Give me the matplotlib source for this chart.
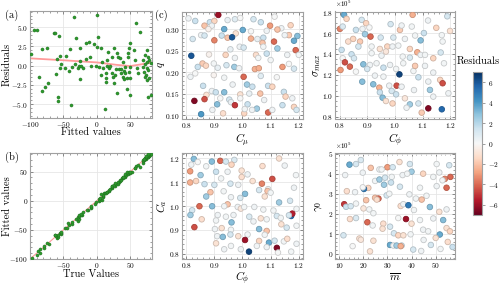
import numpy as np
import matplotlib
matplotlib.use('Agg')
import matplotlib.pyplot as plt
from matplotlib.ticker import AutoMinorLocator, MultipleLocator, FixedLocator
from matplotlib.colors import Normalize
from matplotlib.cm import ScalarMappable

plt.rcParams.update({
    'font.family': 'serif', 'font.serif': ['cmr10'], 'mathtext.fontset': 'cm',
    'axes.formatter.use_mathtext': True, 'axes.unicode_minus': True,
})

# ---------------- data ----------------
fitted = [-98.5,-93.5,-89.5,-86,-82,-81.5,-77,-74.5,-72.5,-64.5,-63,-60.5,-59.5,-58,-58,-57,-55.5,-54.5,-53.5,-47,-46,-41.5,-39.5,-38.5,-36.5,-34,-32,-30.5,-28.5,-27,-25,-24.5,-25,-23.5,-20,-16,-16,-12,-10.5,-8.5,-5,-2,0,0.5,1.5,3.5,5.5,6.5,8,9.5,11.5,13.5,14,14,14.5,15.5,16.5,18.5,20,22,23,24.5,25,25.5,27.5,29,29.5,30.5,31.5,32.5,34,35.5,36.5,38.5,39,40.5,41.5,42.5,40.5,45,45.5,46,47,47.5,48,49,49.5,50,49,
          55.5,58.5,64.5,74.5,72,77,69.5,75.5,78.5,72,80.5,68.5,74.5,77,70.5,73.5,78.5,75.5,71.5,77,81,59.5,62,57]
residuals = [1.56,4.68,4.6,-1.47,-3.25,2.17,-2.72,2.34,-2.25,4.25,4.25,-1.08,0.87,-4.07,-4.58,3.82,-0.3,1.26,0.22,-0.26,1.26,-0.69,2.13,-5.1,-0.21,6.29,0.18,3.56,-0.34,0,2.34,0.61,-1.73,0,-0.34,2.95,0.87,3.12,1.17,0,2.78,0,2.47,6.58,3.73,-0.17,-1.21,2.26,0.52,-0.34,-5.62,-2.16,-1.56,-0.95,0.78,-0.08,1.82,-0.34,0,1.13,-0.99,-1.47,-2.25,2.34,-1.21,-0.47,1.61,-3.55,1.17,-0.47,0.96,-0.47,-0.99,-1.43,0.52,-0.69,-0.13,-0.99,-1.73,-1.64,-3.03,1.17,1.69,2.26,-0.78,2.91,-3.81,-1.56,-0.13,
             2.04,5.5,4.33,2.04,1.39,1.17,0.74,0.52,0.74,0.22,0.31,-0.13,-0.34,-0.56,-0.78,-1.21,-1.64,-1.86,-1.51,-4.03,-3.81,-0.34,-0.99,0.74]
# lowess trend line in (a)
trend_x = [-100, -50, 0, 30, 50, 65, 82]
trend_y = [0.95, 0.70, 0.42, 0.10, -0.05, 0.15, 0.40]

# (c) top-left: C_mu vs q
cmu_1 = [0.914,0.808,0.832,0.884,0.900,0.947,0.973,0.992,1.039,1.065,1.098,0.865,0.891,0.879,0.935,1.001,0.976,1.030,0.853,0.865,0.926,0.947,0.963,0.900,0.823,1.030,1.053,1.074,0.990,1.004,0.957,0.818,0.881,0.940,0.973,1.048,1.056,1.086,0.858,0.870,0.841,0.898,0.912,0.943,0.971,0.988,1.044,1.058,0.832,0.815,0.935,0.898,1.004,1.065,0.860,0.965,1.016,1.035,1.091,0.891,0.905,0.935,0.992,1.024,1.063,0.872,0.829,0.865,0.953,0.959,0.910,0.973,1.018,1.051,1.034,0.893,0.931,0.853,1.006,1.091,1.008,0.921,0.992,
         1.114,1.171,1.138,1.124,1.086,1.165,1.195,1.150,1.112,1.071,1.183,1.074,1.124,1.189,1.159,1.200,1.100,1.165,1.183,1.142,1.122,1.106,1.147,1.153,1.177,1.077,1.142,1.183,1.192,1.106]
q_1 = [0.333,0.325,0.319,0.316,0.319,0.321,0.323,0.326,0.323,0.316,0.308,0.308,0.308,0.300,0.300,0.298,0.290,0.295,0.286,0.285,0.285,0.280,0.281,0.274,0.277,0.278,0.277,0.280,0.259,0.257,0.253,0.238,0.241,0.240,0.233,0.240,0.233,0.243,0.220,0.215,0.212,0.220,0.210,0.216,0.212,0.209,0.207,0.209,0.197,0.189,0.187,0.193,0.189,0.191,0.168,0.171,0.171,0.166,0.168,0.156,0.153,0.153,0.148,0.150,0.150,0.147,0.133,0.137,0.136,0.130,0.125,0.123,0.125,0.115,0.112,0.112,0.104,0.102,0.104,0.106,0.114,0.139,0.139,
       0.329,0.309,0.302,0.299,0.296,0.286,0.284,0.286,0.271,0.268,0.273,0.259,0.255,0.251,0.240,0.240,0.228,0.219,0.208,0.212,0.188,0.166,0.154,0.143,0.139,0.135,0.123,0.119,0.112,0.112]
res_1 = [-6,0.3,1.5,1.5,-1.5,0.5,0.8,0,1.2,1.5,-3,-2,0.3,-0.3,3.5,3.5,-1,0,0.3,1.2,1.5,-2,6,-3.5,1.2,-2.5,0.5,1.5,0.3,1.2,0.5,6,-0.3,-1.5,0.3,-1.2,0.2,1.5,-1.8,-1.5,1.5,0.2,0.5,1.2,2.5,0.3,-2.5,-2.5,0,0.3,0.2,-0.2,-4,0.8,1.5,0.3,2.5,1.5,1.5,0.3,1.5,3,-1,0.5,-2,-1,-6.5,-4.5,1.2,0.5,3,-5,1.5,2.5,0.3,0.3,-1.2,4,-1.5,-4,0.2,0,0,
         0,-1.5,0.3,-2,0.3,-1.8,3,0.3,-4,-2,3.5,0.2,2.5,-4,0.3,0.2,0.2,0,1.2,-3,0,-1.5,1.5,-1.5,0.3,0.3,1.5,-1.5,1.2,0.3]

# (c) top-right: C_phi vs sigma_max
cphi_2 = [0.815,0.824,0.800,0.810,0.879,0.895,0.858,0.882,0.907,0.984,1.018,1.024,1.064,1.061,0.891,0.911,0.948,0.848,0.830,0.873,0.994,1.036,1.073,0.867,0.915,0.945,0.972,0.991,1.012,1.054,1.081,0.806,0.842,0.915,0.951,0.967,1.028,1.054,0.810,0.851,0.818,0.836,0.802,0.885,0.909,0.933,0.958,0.982,1.004,0.858,0.899,0.927,0.958,1.016,1.067,0.881,0.921,0.943,0.979,1.006,1.024,0.945,0.988,1.004,0.955,0.967,0.991,1.054,1.085,1.042,1.069,
          1.093,1.173,1.093,1.109,1.139,1.166,1.030,1.073,1.109,1.178,1.085,1.139,1.164,1.173,1.121,1.127,1.036,1.139,1.194,1.121,1.170,1.097,
          1.120,1.150,1.190,1.105,1.170,1.200]
sigma_2 = [1.774,1.736,1.640,1.662,1.726,1.694,1.630,1.640,1.653,1.685,1.630,1.672,1.774,1.662,1.589,1.566,1.557,1.544,1.519,1.519,1.557,1.544,1.576,1.471,1.471,1.448,1.471,1.471,1.480,1.448,1.416,1.439,1.397,1.407,1.384,1.423,1.375,1.365,1.359,1.359,1.320,1.279,1.247,1.301,1.295,1.311,1.269,1.295,1.257,1.231,1.257,1.193,1.183,1.205,1.237,1.135,1.110,1.078,1.097,1.097,1.087,1.033,1.046,1.014,0.982,0.950,0.927,0.918,0.927,0.886,1.055,
           1.530,1.519,1.391,1.391,1.359,1.414,1.311,1.286,1.286,1.311,1.177,1.222,1.152,1.120,1.136,1.056,0.976,0.992,1.024,0.880,0.871,0.839,
           1.720,1.650,1.760,1.600,1.580,1.620]
res_2 = [3.5,-1.5,-3.5,1,1.2,-1.5,1.5,0.3,0,1.2,-1.8,0.3,-2.5,0.2,2.5,-4,1.2,-1.5,-1.2,-1.8,1,0.3,0.2,1.2,0.2,-1,-1.5,0.3,0.2,-1.5,-2.5,1.5,1.5,0.2,0.3,-0.8,0.2,1,0,1.2,-4.5,-4,-3,3,0.3,0.2,1.5,0.3,0.2,0,1.2,0.3,0.2,6.5,0.2,3,3,-2.5,0.3,-4.5,0.3,1.5,1.2,1.5,3,-1,-1.5,2.5,1.2,0.3,0.3,
         3,0.2,0.3,0.2,-1.5,1.2,0.2,-1.8,0.3,0.2,1.5,0.3,-1.5,-4.5,0.3,2.5,-0.8,0.3,0.3,-6.5,5.5,-1.8,
         0.3,-1.5,1.2,1.5,0.2,-1]

# (c) bottom-left: C_phi vs C_a
cphi_3 = [0.827,0.891,0.921,0.941,0.971,0.818,0.841,0.961,0.871,0.906,0.851,0.814,0.947,0.997,1.018,0.924,0.997,1.036,1.069,0.814,0.835,0.865,0.900,0.957,0.985,1.059,1.091,0.886,0.933,1.009,0.871,0.959,0.992,1.079,0.847,0.892,0.947,0.935,0.983,0.994,1.006,1.042,1.074,0.821,0.815,0.912,0.941,0.968,0.855,0.906,0.961,1.024,1.065,1.039,1.086,0.829,0.902,0.926,0.959,1.059,0.910,0.930,0.957,0.985,1.018,1.059,1.009,0.906,1.051,1.094,0.994,1.023,0.935,0.959,
          1.071,1.089,1.100,1.106,1.183,1.130,1.169,1.110,1.192,1.122,1.136,1.173,1.177,1.165,1.086,1.138,1.157,1.192,1.079,1.114,1.086,1.147,1.159,1.122,1.126,1.173,1.192,1.150,1.190,1.130]
ca_3 = [1.198,1.187,1.190,1.187,1.194,1.174,1.185,1.174,1.167,1.144,1.130,1.146,1.144,1.149,1.133,1.116,1.122,1.105,1.094,1.099,1.105,1.092,1.089,1.094,1.089,1.067,1.071,1.058,1.062,1.051,1.040,1.037,1.034,1.040,0.999,0.999,1.007,0.999,0.996,0.989,0.996,0.996,0.985,0.982,0.962,0.962,0.955,0.962,0.944,0.939,0.931,0.955,0.948,0.935,0.944,0.911,0.903,0.907,0.900,0.903,0.873,0.870,0.880,0.873,0.880,0.853,0.857,0.843,0.832,0.846,0.818,0.808,0.818,0.832,
        1.168,1.063,1.056,1.114,1.077,1.015,1.022,0.981,0.988,0.958,0.950,0.958,0.968,0.961,0.895,0.923,0.909,0.917,0.879,0.854,0.827,0.851,0.862,0.824,0.804,0.808,0.841,1.170,1.130,1.200]
res_3 = [3,3,-4,1.2,1,0.3,0,-1.5,0.2,1.5,2.5,-3,0.3,-1,0.3,0.2,-1.2,-1,-3.5,-2.5,-1.5,1.5,1.2,1.2,0.3,1.2,0.3,-2,0.2,3,2.5,0.3,1,-1,-4,3,-2,0.2,0.3,-0.8,0.2,0.3,0.2,1.2,2.5,0.3,0.2,0.3,-1.2,0.2,3,1,-1,0.3,0.2,-4.5,0.3,-1,0.2,3,0.3,3,1.2,-1,0.2,-1.5,-6,-1,0.2,3.5,0.3,6.5,0.3,0.2,
         -1.2,-2,0.2,-4.5,0.3,2.5,1.2,0.2,0.2,1.2,0.2,5.5,-5.5,1.2,-2,-1,1.2,0.2,0.2,1.2,0.3,0.2,-1.2,-6.5,0,0.2,0.3,0.3,0.2,-1]

# (c) bottom-right: m_bar vs gamma_0
mbar_4 = [14.3,17.0,19.0,19.8,23.1,30.0,26.7,27.6,32.2,35.0,39.3,40.0,12.5,24.9,26.7,29.0,31.8,36.3,38.2,28.6,31.5,35.2,22.1,20.3,19.8,13.2,16.6,29.7,30.8,39.1,41.8,21.2,24.9,26.3,25.6,12.1,12.9,14.8,17.0,35.5,36.6,38.7,41.0,20.1,22.5,24.2,14.5,17.0,21.7,23.9,28.3,31.1,34.5,37.7,40.0,28.0,32.7,34.5,36.6,39.6,11.8,18.4,19.0,24.2,15.6,31.1,32.5,33.8,35.9,35.5,22.8,40.7,
          50.4,55.6,44.8,49.0,51.5,53.8,56.1,52.8,50.4,43.5,54.5,46.2,44.2,47.6,51.5,54.5,43.5,49.0,53.1,44.8,46.9,54.5,55.9,51.7,
          45.0,48.0,52.0,55.0,57.0,44.0,50.0]
gamma_4 = [4.45,4.48,4.68,4.05,4.29,4.32,4.21,4.21,4.32,4.58,4.48,4.10,3.93,3.64,3.71,3.80,3.84,3.93,4.00,3.45,3.56,3.35,3.29,3.24,3.32,3.13,3.08,2.92,3.00,2.97,2.76,2.68,2.80,2.76,2.71,2.48,2.35,2.38,2.51,2.39,2.48,2.43,2.19,2.27,2.22,2.03,1.74,1.79,1.58,1.42,1.51,1.36,1.79,1.74,1.51,1.26,1.03,0.93,0.93,0.98,0.93,0.77,0.71,0.66,0.39,0.45,0.42,0.42,0.42,0.39,0.13,0.22,
           4.48,4.42,4.00,3.84,4.06,3.74,3.84,3.67,3.38,3.30,3.30,2.90,2.71,2.34,2.10,2.22,1.69,1.77,1.69,1.21,1.13,1.29,1.13,0.97,
           0.70,0.45,0.25,0.60,0.35,0.15,0.80]
res_4 = [3.5,1.2,1,0.3,-2,-3,0.3,0.2,1.2,-1,1.2,2.5,0.3,0.2,2.5,1.2,0.2,0.3,0.2,2.5,1.5,1.2,-1.5,5,0,-1.2,0.3,1.2,0.2,0.3,0.2,-2,-2,-4,-1.2,-5,1.5,1.2,0.2,-1.2,0.3,5,0.2,-0.8,0.2,0.2,-1.2,1,-4,0.2,-1.2,1.2,0,-6,-1,-1,1.2,-1.5,-1,0.2,1.2,-1,-0.8,-1,0,3.5,0.2,2.5,1.2,-2.5,-1,1.2,
         0.2,1.2,-1.5,0.2,0.3,-3.5,-4,0.2,0.3,0.2,-4,0.2,-2,3,-1,0.3,0.2,0.3,3,0.3,0.2,-1,-1.5,3.5,
         0.3,1.2,0.2,-1.2,1.5,0.3,-1]

cbar_ticks = [-6, -4, -2, 0, 2, 4, 6]

# ---------------- figure ----------------
W, H = 500, 286
fig = plt.figure(figsize=(5.0, 2.86), dpi=100)

def frac(x0, y0, x1, y1):
    return [x0 / W, 1 - y1 / H, (x1 - x0) / W, (y1 - y0) / H]

ax_a = fig.add_axes(frac(30, 11, 152, 118))
ax_b = fig.add_axes(frac(30, 153, 152, 259))
ax_c1 = fig.add_axes(frac(182, 11.5, 303, 118.5))
ax_c2 = fig.add_axes(frac(335, 11.5, 455, 118.5))
ax_c3 = fig.add_axes(frac(182, 153, 303, 259))
ax_c4 = fig.add_axes(frac(335, 153, 455, 259))
cax = fig.add_axes(frac(473, 72, 482, 215))

TL = 5.3
LF = 7.5
MF = 8.0

def style(ax):
    ax.set_facecolor('white')
    ax.grid(True, which='major', color='#e6e6e6', lw=0.6)
    ax.set_axisbelow(True)
    for s in ax.spines.values():
        s.set_color('#a0a0a0')
        s.set_linewidth(0.8)
    ax.xaxis.set_minor_locator(AutoMinorLocator())
    ax.yaxis.set_minor_locator(AutoMinorLocator())
    ax.tick_params(which='both', direction='in', top=True, right=True,
                   color='#777777', labelsize=TL, pad=1.5)
    ax.tick_params(which='major', length=2.5, width=0.6)
    ax.tick_params(which='minor', length=1.3, width=0.5)

def place_labels(ax, xy, yx):
    # xy: axes-y of x-label centre; yx: axes-x of y-label centre
    ax.xaxis.set_label_coords(0.5, xy)
    ax.xaxis.label.set_verticalalignment('center')
    ax.yaxis.set_label_coords(yx, 0.5)
    ax.yaxis.label.set_verticalalignment('center')

green = '#2e9a2e'
green_edge = '#1d6b1d'

# (a)
style(ax_a)
ax_a.scatter(fitted, residuals, s=5, color=green, edgecolors=green_edge, linewidths=0.3, zorder=3)
ax_a.plot(trend_x, trend_y, color='#ff9b9b', lw=1.3, zorder=2)
ax_a.set_xlim(-100, 82.5)
ax_a.set_ylim(-6.8, 7.1)
ax_a.xaxis.set_major_locator(MultipleLocator(50))
ax_a.yaxis.set_major_locator(MultipleLocator(2.5))
ax_a.set_xlabel('Fitted values', fontsize=LF)
ax_a.set_ylabel('Residuals', fontsize=LF)
place_labels(ax_a, -0.135, -0.185)

# (b)
style(ax_b)
true_vals = np.array(fitted) + np.array(residuals)
ax_b.plot([-100, 82.5], [-100, 82.5], color='#ff9b9b', lw=0.8, zorder=2)
ax_b.scatter(true_vals, fitted, s=5, color=green, edgecolors=green_edge, linewidths=0.3, zorder=3)
ax_b.set_xlim(-100, 82.5)
ax_b.set_ylim(-100, 82)
ax_b.xaxis.set_major_locator(FixedLocator([-50, 0, 50]))
ax_b.yaxis.set_major_locator(MultipleLocator(50))
ax_b.set_xlabel('True Values', fontsize=LF)
ax_b.set_ylabel('Fitted values', fontsize=LF)
place_labels(ax_b, -0.14, -0.185)

# (c)
norm = Normalize(-7, 7)
cmap = plt.get_cmap('RdBu')

def cscatter(ax, x, y, r):
    r = np.asarray(r, dtype=float)
    face = cmap(norm(r))
    edge = face.copy()
    edge[:, :3] = edge[:, :3] * 0.82
    ax.scatter(x, y, s=16, c=face, edgecolors=edge, linewidths=0.6, zorder=3)

style(ax_c1)
cscatter(ax_c1, cmu_1, q_1, res_1)
ax_c1.set_xlim(0.785, 1.215)
ax_c1.set_ylim(0.092, 0.341)
ax_c1.xaxis.set_major_locator(MultipleLocator(0.1))
ax_c1.yaxis.set_major_locator(MultipleLocator(0.05))
ax_c1.set_xlabel(r'$C_\mu$', fontsize=MF)
ax_c1.set_ylabel(r'$q$', fontsize=MF)
place_labels(ax_c1, -0.20, -0.17)

style(ax_c2)
cscatter(ax_c2, cphi_2, np.array(sigma_2) * 1e5, res_2)
ax_c2.set_xlim(0.782, 1.218)
ax_c2.set_ylim(0.783e5, 1.806e5)
ax_c2.xaxis.set_major_locator(MultipleLocator(0.1))
ax_c2.yaxis.set_major_locator(MultipleLocator(0.2e5))
ax_c2.ticklabel_format(style='sci', axis='y', scilimits=(0, 0))
ax_c2.yaxis.get_offset_text().set_fontsize(5)
ax_c2.set_xlabel(r'$C_\phi$', fontsize=MF)
ax_c2.set_ylabel(r'$\sigma_{max}$', fontsize=MF)
place_labels(ax_c2, -0.20, -0.15)

style(ax_c3)
cscatter(ax_c3, cphi_3, ca_3, res_3)
ax_c3.set_xlim(0.785, 1.215)
ax_c3.set_ylim(0.777, 1.223)
ax_c3.xaxis.set_major_locator(MultipleLocator(0.1))
ax_c3.yaxis.set_major_locator(MultipleLocator(0.1))
ax_c3.set_xlabel(r'$C_\phi$', fontsize=MF)
ax_c3.set_ylabel(r'$C_a$', fontsize=MF)
place_labels(ax_c3, -0.18, -0.17)

style(ax_c4)
cscatter(ax_c4, mbar_4, np.array(gamma_4) * 1e5, res_4)
ax_c4.set_xlim(8.3, 58)
ax_c4.set_ylim(-0.25e5, 5.03e5)
ax_c4.xaxis.set_major_locator(MultipleLocator(10))
ax_c4.yaxis.set_major_locator(MultipleLocator(1e5))
ax_c4.ticklabel_format(style='sci', axis='y', scilimits=(0, 0))
ax_c4.yaxis.get_offset_text().set_fontsize(5)
ax_c4.set_xlabel(r'$\overline{m}$', fontsize=MF)
ax_c4.set_ylabel(r'$\gamma_0$', fontsize=MF)
place_labels(ax_c4, -0.17, -0.14)

# colorbar
cb = fig.colorbar(ScalarMappable(norm=norm, cmap=cmap), cax=cax, ticks=cbar_ticks)
cb.outline.set_edgecolor('#a0a0a0')
cb.outline.set_linewidth(0.8)
cax.tick_params(labelsize=TL, length=2, width=0.5, color='#777777', pad=2)
fig.text(478 / W, 1 - 61 / H, 'Residuals', ha='center', va='center', fontsize=LF)

# panel labels
fig.text(5 / W, 1 - 15 / H, '(a)', fontsize=LF, va='center')
fig.text(5 / W, 1 - 157 / H, '(b)', fontsize=LF, va='center')
fig.text(155 / W, 1 - 15 / H, '(c)', fontsize=LF, va='center')

fig.savefig('out.png', dpi=100)
